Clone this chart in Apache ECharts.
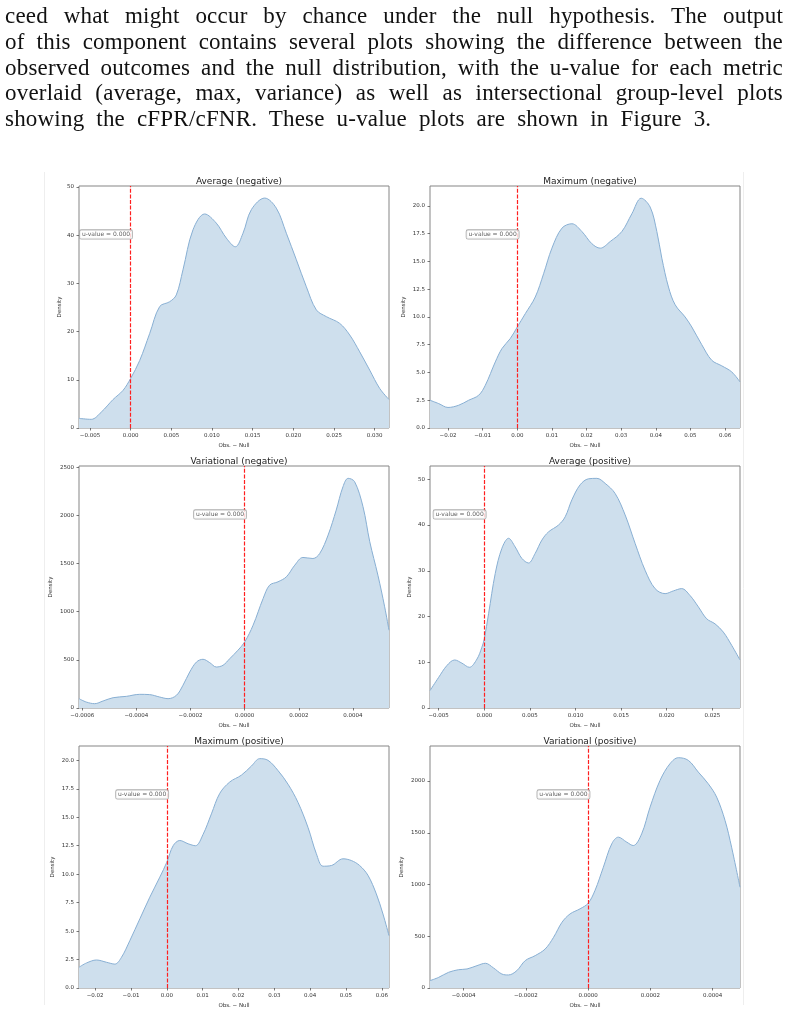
<!DOCTYPE html>
<html>
<head>
<meta charset="utf-8">
<title>u-value plots</title>
<script src="https://cdn.jsdelivr.net/npm/echarts@6/dist/echarts.min.js"></script>
<style>
body{margin:0;background:#fff;}
#chart{position:absolute;left:0;top:0;width:788px;height:1013px;}
#para{position:absolute;left:5px;top:3px;width:778px;font-family:"Liberation Serif",serif;font-size:23px;letter-spacing:0.2px;line-height:25.8px;color:#111;z-index:2;}
#para div{text-align:justify;text-align-last:justify;}
#para div.last{text-align-last:left;word-spacing:6px;}
</style>
</head>
<body>
<div id="para">
  <div>ceed what might occur by chance under the null hypothesis. The output</div>
  <div>of this component contains several plots showing the difference between the</div>
  <div>observed outcomes and the null distribution, with the u-value for each metric</div>
  <div>overlaid (average, max, variance) as well as intersectional group-level plots</div>
  <div class="last">showing the cFPR/cFNR. These u-value plots are shown in Figure 3.</div>
</div>
<div id="chart"></div>
<script>
// 密度曲线数据
var avgNegX = [-0.00635,-0.00484,-0.00361,-0.00217,-0.00094,0.0,0.00111,0.00234,0.00357,0.00480,0.00561,0.00643,0.00766,0.00910,0.01053,0.01176,0.01287,0.01381,0.01484,0.01648,0.01791,0.01914,0.02037,0.02160,0.02283,0.02406,0.02570,0.02693,0.02816,0.02939,0.03062,0.03176];
var avgNegY = [2.0,1.8,3.3,5.9,7.8,10.3,14.0,19.6,25.2,26.2,27.6,32.8,41.1,44.4,42.5,39.4,37.6,40.4,45.3,47.7,45.6,40.4,34.9,29.3,24.5,23.1,21.7,19.3,15.8,12.0,8.2,5.9];

var maxNegX = [-0.0252,-0.02269,-0.02,-0.01692,-0.01404,-0.01115,-0.00923,-0.00635,-0.00442,-0.00202,0.0,0.00231,0.00519,0.00760,0.01000,0.01288,0.01577,0.01865,0.02154,0.02394,0.02683,0.03019,0.03308,0.03577,0.03837,0.04029,0.04173,0.04365,0.04558,0.04846,0.05038,0.05327,0.05615,0.05904,0.06192,0.0643];
var maxNegY = [2.5,2.2,1.85,2.05,2.5,2.95,3.85,5.95,7.16,8.06,9.1,10.3,11.8,13.9,16.2,18.0,18.4,17.7,16.6,16.2,16.8,17.7,19.3,20.7,19.9,17.7,15.3,12.7,11.1,10.0,9.1,7.5,6.1,5.6,5.05,4.15];

var varNegX = [-0.000612,-0.000585,-0.000554,-0.000523,-0.000486,-0.000437,-0.000388,-0.000351,-0.000314,-0.000283,-0.000252,-0.000228,-0.000203,-0.000178,-0.000154,-0.000129,-0.000105,-0.000080,-0.000055,-0.000025,0,0.000031,0.000068,0.000092,0.000123,0.000154,0.000185,0.000215,0.000252,0.000277,0.000308,0.000338,0.000363,0.000382,0.000406,0.000437,0.000462,0.000492,0.000517,0.000533];
var varNegY = [97,62,45,73,107,121,142,139,114,97,132,236,374,478,506,471,426,444,513,600,686,860,1137,1276,1311,1363,1484,1564,1553,1605,1796,2056,2299,2386,2351,2091,1727,1380,1051,808];

var avgPosX = [-0.00595,-0.00500,-0.00409,-0.00325,-0.00245,-0.00164,-0.00080,-0.00026,0,0.00047,0.00120,0.00193,0.00266,0.00339,0.00412,0.00485,0.00558,0.00631,0.00704,0.00814,0.00887,0.00960,0.01051,0.01142,0.01234,0.01325,0.01434,0.01544,0.01653,0.01763,0.01872,0.01982,0.02073,0.02164,0.02255,0.02347,0.02438,0.02529,0.02620,0.02712,0.02803];
var avgPosY = [3.8,6.7,9.3,10.5,9.8,8.9,10.7,13.3,15.1,20.6,29.4,34.9,37.1,35.2,32.7,31.7,33.8,36.7,38.5,40.0,41.8,45.5,48.8,50.1,50.2,49.1,46.9,42.2,36.0,30.1,26.1,25.0,25.6,26.1,24.6,22.1,19.5,18.4,16.6,13.7,10.5];

var maxPosX = [-0.0245,-0.02240,-0.01961,-0.01682,-0.01450,-0.01264,-0.01032,-0.00753,-0.00474,-0.00195,0,0.00177,0.00362,0.00595,0.00799,0.01013,0.01245,0.01478,0.01757,0.02082,0.02361,0.02593,0.02825,0.03104,0.03383,0.03662,0.03941,0.04173,0.04359,0.04591,0.04916,0.05149,0.05381,0.05613,0.05846,0.06032,0.0620];
var maxPosY = [1.82,2.2,2.46,2.26,2.1,2.7,4.16,6.07,7.98,9.74,11.05,12.5,12.96,12.67,12.5,13.5,15.3,17.1,18.1,18.7,19.5,20.15,20.0,19.1,17.9,16.3,14.1,11.8,10.7,10.76,11.35,11.2,10.76,9.9,8.27,6.5,4.6];

var varPosX = [-0.000508,-0.000480,-0.000448,-0.000416,-0.000389,-0.000357,-0.000330,-0.000304,-0.000277,-0.000256,-0.000229,-0.000202,-0.000170,-0.000138,-0.000111,-0.000084,-0.000058,-0.000026,0,0.000022,0.000049,0.000076,0.000097,0.000124,0.000145,0.000172,0.000199,0.000231,0.000263,0.000290,0.000322,0.000354,0.000386,0.000413,0.000440,0.000461,0.000488];
var varPosY = [71,103,152,177,184,216,239,194,135,126,168,265,313,377,490,635,716,765,819,942,1168,1394,1458,1410,1377,1490,1748,2006,2168,2226,2200,2087,1974,1845,1619,1361,974];

// 刻度
var avgXTicks = [-0.005,0,0.005,0.01,0.015,0.02,0.025,0.03];
var avgPosXTicks = [-0.005,0,0.005,0.01,0.015,0.02,0.025];
var maxXTicks = [-0.02,-0.01,0,0.01,0.02,0.03,0.04,0.05,0.06];
var varNegXTicks = [-0.0006,-0.0004,-0.0002,0,0.0002,0.0004];
var varPosXTicks = [-0.0004,-0.0002,0,0.0002,0.0004];
var avgYTicks = [0,10,20,30,40,50];
var maxYTicks = [0,2.5,5,7.5,10,12.5,15,17.5,20];
var varNegYTicks = [0,500,1000,1500,2000,2500];
var varPosYTicks = [0,500,1000,1500,2000];

var uLabel = 'u-value = 0.000';

var panels = [
	{title:'Average (negative)', x:avgNegX, y:avgNegY, xt:avgXTicks, yt:avgYTicks, xd:3, yd:0, xmin:-0.00635, xmax:0.03176, ymax:50.2, left:79, top:186, gap:16},
	{title:'Maximum (negative)', x:maxNegX, y:maxNegY, xt:maxXTicks, yt:maxYTicks, xd:2, yd:1, xmin:-0.0252, xmax:0.0643, ymax:21.8, left:430, top:186, gap:23},
	{title:'Variational (negative)', x:varNegX, y:varNegY, xt:varNegXTicks, yt:varNegYTicks, xd:4, yd:0, xmin:-0.000612, xmax:0.000533, ymax:2514, left:79, top:466, gap:25},
	{title:'Average (positive)', x:avgPosX, y:avgPosY, xt:avgPosXTicks, yt:avgYTicks, xd:3, yd:0, xmin:-0.00595, xmax:0.02803, ymax:52.9, left:430, top:466, gap:17},
	{title:'Maximum (positive)', x:maxPosX, y:maxPosY, xt:maxXTicks, yt:maxYTicks, xd:2, yd:1, xmin:-0.0245, xmax:0.0620, ymax:21.26, left:79, top:746, gap:23},
	{title:'Variational (positive)', x:varPosX, y:varPosY, xt:varPosXTicks, yt:varPosYTicks, xd:4, yd:0, xmin:-0.000508, xmax:0.000488, ymax:2339, left:430, top:746, gap:25}
];

var W = 310, H = 242;
var font = 'DejaVu Sans';

function fmt(v, d){
	var s = Math.abs(v) < 1e-12 ? (0).toFixed(d) : v.toFixed(d);
	return s.replace('-', '\u2212');
}

function zip(xs, ys){
	var out = [];
	for (var i = 0; i < xs.length; i++) out.push([xs[i], ys[i]]);
	return out;
}

var option = {
	animation: false,
	textStyle: {fontFamily: font},
	title: [], grid: [], xAxis: [], yAxis: [], series: [],
	graphic: [
		{type:'line', shape:{x1:44.5, y1:172, x2:44.5, y2:1005}, style:{stroke:'#eeeeee', lineWidth:1}},
		{type:'line', shape:{x1:743.5, y1:172, x2:743.5, y2:1005}, style:{stroke:'#eeeeee', lineWidth:1}}
	]
};

panels.forEach(function(p, i){
	option.title.push({
		text: p.title, left: p.left + W / 2, top: p.top - 14, textAlign: 'center',
		textStyle: {fontSize: 9, fontWeight: 'normal', color: '#222', fontFamily: font}
	});
	option.grid.push({
		left: p.left, top: p.top, width: W, height: H,
		show: true, borderColor: '#858585', borderWidth: 1, backgroundColor: 'transparent'
	});
	option.xAxis.push({
		type: 'value', gridIndex: i, min: p.xmin, max: p.xmax,
		name: 'Obs. \u2212 Null', nameLocation: 'middle', nameGap: 15,
		nameTextStyle: {fontSize: 5.5, color: '#333', fontFamily: font},
		axisLine: {show: false, onZero: false},
		axisTick: {show: true, length: 2.5, customValues: p.xt, lineStyle: {color: '#555', width: 0.8}},
		axisLabel: {fontSize: 5.5, color: '#333', margin: 4.5, customValues: p.xt, fontFamily: font,
			formatter: function(v){ return fmt(v, p.xd); }},
		splitLine: {show: false}
	});
	option.yAxis.push({
		type: 'value', gridIndex: i, min: 0, max: p.ymax,
		name: 'Density', nameLocation: 'middle', nameGap: p.gap,
		nameTextStyle: {fontSize: 5.5, color: '#333', fontFamily: font},
		axisLine: {show: false, onZero: false},
		axisTick: {show: true, length: 2.5, customValues: p.yt, lineStyle: {color: '#555', width: 0.8}},
		axisLabel: {fontSize: 5.5, color: '#333', margin: 5, customValues: p.yt, fontFamily: font,
			formatter: function(v){ return fmt(v, p.yd); }},
		splitLine: {show: false}
	});
	option.series.push({
		type: 'line', xAxisIndex: i, yAxisIndex: i,
		data: zip(p.x, p.y), smooth: 0.35, symbol: 'none',
		lineStyle: {color: '#88afd3', width: 1},
		areaStyle: {color: '#cedfed', opacity: 1},
		markLine: {
			silent: true, symbol: 'none', animation: false,
			label: {show: false},
			lineStyle: {color: '#ff1f1f', type: [4, 1.6], width: 1.2, opacity: 1},
			data: [{xAxis: 0}]
		}
	});
	option.series.push({
		type: 'scatter', xAxisIndex: i, yAxisIndex: i,
		symbol: 'rect', symbolSize: 0.1, silent: true,
		data: [[0, p.ymax * 0.8]],
		label: {
			show: true, position: 'left', distance: 0, offset: [1.5, 0],
			formatter: uLabel, fontSize: 6, color: '#333', fontFamily: font,
			backgroundColor: '#fff', borderColor: '#999', borderWidth: 0.8, borderRadius: 1.5,
			padding: [1.5, 2, 1, 2]
		},
		z: 5
	});
});

var chart = echarts.init(document.getElementById('chart'));
chart.setOption(option);
</script>
</body>
</html>
